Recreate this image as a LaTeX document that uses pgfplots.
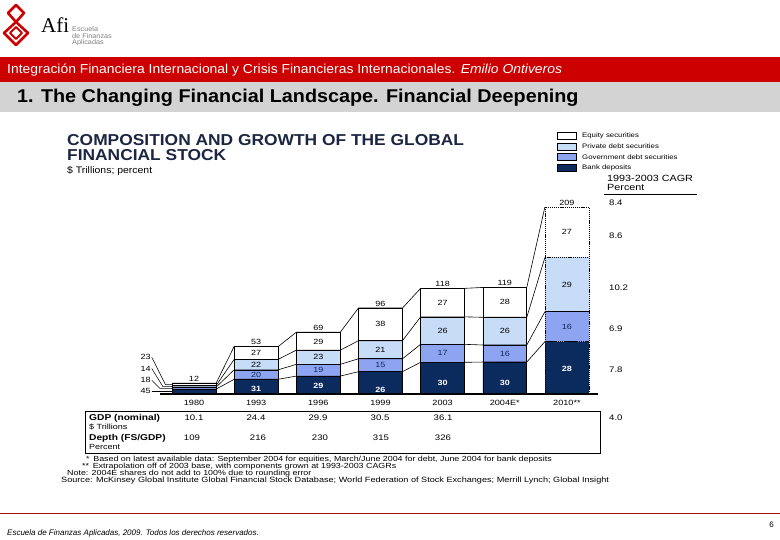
\documentclass[border=0pt]{standalone}
\usepackage{pgfplots}
\usepackage{pgfplotstable}
\pgfplotsset{compat=1.18}
\usepackage{fontspec}
\setmainfont{Liberation Sans}
\newfontfamily\serifaf{Liberation Serif}
\newfontfamily\wideA[FakeStretch=1.07]{Liberation Sans}
\newfontfamily\wideB[FakeStretch=1.1]{Liberation Sans}
\newfontfamily\wideC[FakeStretch=1.2]{Liberation Sans}
\definecolor{bdblue}{HTML}{0B2A5E}
\definecolor{gdblue}{HTML}{8DA4F0}
\definecolor{pdblue}{HTML}{C7DCF7}
\definecolor{afired}{HTML}{CC0000}
\definecolor{footred}{HTML}{A01010}
\definecolor{bandgrey}{HTML}{D3D3D3}
\definecolor{titlenavy}{HTML}{1C2642}
\newcommand{\fs}[2]{\fontsize{#1bp}{#2bp}\selectfont}

% x: category index; total in $ trillions; segment heights in $ trillions
\pgfplotstableread{
x total bd gd pd eq
0 12 5.40 2.16 1.68 2.76
1 53 16.43 10.60 11.66 14.31
2 69 20.01 13.11 15.87 20.01
3 96 24.96 14.40 20.16 36.48
4 118 35.40 20.06 30.68 31.86
5 119 35.70 19.04 30.94 33.32
6 209 58.52 33.44 60.61 56.43
}\stock

\pgfplotsset{chartbase/.style={
  at={(194bp,-394bp)}, anchor=origin, scale only axis,
  width=438bp, height=197bp,
  xmin=-0.547, xmax=6.5, ymin=0, ymax=220,
  clip=false,
}}

\begin{document}
\begin{tikzpicture}[x=1bp,y=-1bp]
\useasboundingbox (0,0) rectangle (780,540);
\fill[white] (0,0) rectangle (780,540);

% ---- logo
\begin{scope}[afired, line width=2.6bp, line join=round]
  \draw (16,5) -- (24,13) -- (16,22) -- (8,13) -- cycle;
  \draw (16,22) -- (28,33) -- (16,45) -- (4,33) -- cycle;
  \draw[line width=1.8bp] (16,27) -- (22,33) -- (16,39) -- (10,33) -- cycle;
\end{scope}
\node[anchor=base west, inner sep=0] at (41,33) {\serifaf\fs{21}{22}Afi};
\foreach \t/\yy in {Escuela/29, de Finanzas/36, Aplicadas/43}{
  \node[anchor=west, inner sep=0, text=gray, font=\wideA\fs{6.8}{7}] at (72,\yy) {\t};}

% ---- bands
\fill[afired] (0,57) rectangle (780,82);
\fill[bandgrey] (0,82) rectangle (780,112);
\node[anchor=west, white, inner sep=0, font=\wideA\fs{13}{14}] at (7,70.5)
  {Integración Financiera Internacional y Crisis Financieras Internacionales. \textit{Emilio Ontiveros}};
\node[anchor=west, inner sep=0, font=\wideA\fs{18.5}{20}\bfseries] at (17,98)
  {1. The Changing Financial Landscape. Financial Deepening};

% ---- chart titles
\node[anchor=west, inner sep=0, text=titlenavy, font=\wideB\fs{15.8}{16}\bfseries] at (67,140)
  {COMPOSITION AND GROWTH OF THE GLOBAL};
\node[anchor=west, inner sep=0, text=titlenavy, font=\wideB\fs{15.8}{16}\bfseries] at (67,155)
  {FINANCIAL STOCK};
\node[anchor=west, inner sep=0, font=\wideB\fs{9.5}{11}] at (67,170.5) {\$ Trillions; percent};

% ---- legend
\foreach \c/\t/\yy in {white/Equity securities/136, pdblue/Private debt securities/146.5, gdblue/Government debt securities/157, bdblue/Bank deposits/167.5}{
  \draw[fill=\c, line width=0.5bp] (557,\yy-3.5) rectangle (576,\yy+3.5);
  \node[anchor=west, inner sep=0, font=\wideC\fs{6.5}{7}] at (582,\yy) {\t};
}
\node[anchor=west, inner sep=0, font=\wideC\fs{9}{10}] at (607,178) {1993-2003 CAGR};
\node[anchor=west, inner sep=0, font=\wideC\fs{9}{10}] at (607,187.5) {Percent};
\draw[line width=0.6bp] (604,194) -- (697,194);
\foreach \v/\yy in {8.4/203, 8.6/236, 10.2/288, 6.9/329, 7.8/370, 4.0/418}{
  \node[anchor=west, inner sep=0, font=\wideC\fs{8}{9}] at (609,\yy) {\v};
}

% ---- bars 1980-2004E (solid)
\begin{axis}[chartbase, hide axis, ybar stacked, bar width=0.707, restrict x to domain=-0.5:5.5]
\addplot[fill=bdblue, draw=black, line width=0.6bp] table[x=x,y=bd]{\stock};
\addplot[fill=gdblue, draw=black, line width=0.6bp] table[x=x,y=gd]{\stock};
\addplot[fill=pdblue, draw=black, line width=0.6bp] table[x=x,y=pd]{\stock};
\addplot[fill=white, draw=black, line width=0.6bp] table[x=x,y=eq]{\stock};
\end{axis}

% ---- bar 2010 (extrapolated, dotted outline)
\begin{axis}[chartbase, hide axis, ybar stacked, bar width=0.707, restrict x to domain=5.5:6.5]
\addplot[fill=bdblue, draw=black, line width=0.6bp, dash pattern=on 1.2bp off 0.9bp] table[x=x,y=bd]{\stock};
\addplot[fill=gdblue, draw=black, line width=0.6bp, dash pattern=on 1.2bp off 0.9bp] table[x=x,y=gd]{\stock};
\addplot[fill=pdblue, draw=black, line width=0.6bp, dash pattern=on 1.2bp off 0.9bp] table[x=x,y=pd]{\stock};
\addplot[fill=white, draw=black, line width=0.6bp, dash pattern=on 1.2bp off 0.9bp] table[x=x,y=eq]{\stock};
\end{axis}

% ---- connectors, labels, baseline
\begin{axis}[chartbase, axis x line=bottom, hide y axis,
  axis line style={-, line width=1.6bp},
  xtick={0,1,2,3,4,5,6}, xticklabels={1980,1993,1996,1999,2003,2004E*,2010**},
  major tick length=0pt, ytick=\empty,
  xticklabel style={font=\wideC\fs{7.6}{8}, yshift=-2.5bp},
  /pgf/number format/assume math mode=true]
\addplot[black, line width=0.6bp, mark=none] coordinates {(-0.354,5.40)(0.354,5.40)(0.646,16.43)(1.354,16.43)(1.646,20.01)(2.354,20.01)(2.646,24.96)(3.354,24.96)(3.646,35.40)(4.354,35.40)(4.646,35.70)(5.354,35.70)(5.646,58.52)};
\addplot[black, line width=0.6bp, mark=none] coordinates {(-0.354,7.56)(0.354,7.56)(0.646,27.03)(1.354,27.03)(1.646,33.12)(2.354,33.12)(2.646,39.36)(3.354,39.36)(3.646,55.46)(4.354,55.46)(4.646,54.74)(5.354,54.74)(5.646,91.96)};
\addplot[black, line width=0.6bp, mark=none] coordinates {(-0.354,9.24)(0.354,9.24)(0.646,38.69)(1.354,38.69)(1.646,48.99)(2.354,48.99)(2.646,59.52)(3.354,59.52)(3.646,86.14)(4.354,86.14)(4.646,85.68)(5.354,85.68)(5.646,152.57)};
\addplot[black, line width=0.6bp, mark=none] coordinates {(-0.354,12)(0.354,12)(0.646,53)(1.354,53)(1.646,69)(2.354,69)(2.646,96)(3.354,96)(3.646,118)(4.354,118)(4.646,119)(5.354,119)(5.646,209)};
% share labels
\addplot[only marks, mark=none, nodes near coords, point meta=explicit symbolic,
  every node near coord/.style={anchor=center, inner sep=0, font=\wideC\fs{7.5}{8}\bfseries, text=white}]
  coordinates {(1,5.5)[31] (2,8.5)[29] (3,5)[26] (4,12.6)[30] (5,12.6)[30] (6,27.5)[28]};
\addplot[only marks, mark=none, nodes near coords, point meta=explicit symbolic,
  every node near coord/.style={anchor=center, inner sep=0, font=\wideC\fs{7.5}{8}, text=bdblue}]
  coordinates {(1,21.7)[20] (2,26.6)[19] (3,32.2)[15] (4,45.4)[17] (5,45.2)[16] (6,75.2)[16]};
\addplot[only marks, mark=none, nodes near coords, point meta=explicit symbolic,
  every node near coord/.style={anchor=center, inner sep=0, font=\wideC\fs{7.5}{8}, text=black}]
  coordinates {(1,32.9)[22] (2,41.1)[23] (3,49.4)[21] (4,70.8)[26] (5,70.2)[26] (6,122.3)[29]};
\addplot[only marks, mark=none, nodes near coords, point meta=explicit symbolic,
  every node near coord/.style={anchor=center, inner sep=0, font=\wideC\fs{7.5}{8}, text=black}]
  coordinates {(1,45.8)[27] (2,58)[29] (3,77.8)[38] (4,102.1)[27] (5,102.3)[28] (6,180.8)[27]};
% totals
\addplot[only marks, mark=none, nodes near coords, point meta=explicit symbolic,
  every node near coord/.style={anchor=south, inner sep=1.5bp, font=\wideC\fs{7.5}{8}, text=black}]
  coordinates {(0,12)[12] (1,53)[53] (2,69)[69] (3,96)[96] (4,118)[118] (5,119)[119] (6,209)[209]};
% 1980 shares with leaders
\draw[line width=0.5bp] (axis cs:-0.68,41) -- (axis cs:-0.46,10.6) -- (axis cs:-0.354,10.6);
\draw[line width=0.5bp] (axis cs:-0.68,28.5) -- (axis cs:-0.50,8.2) -- (axis cs:-0.354,8.2);
\draw[line width=0.5bp] (axis cs:-0.68,15.5) -- (axis cs:-0.55,6.4) -- (axis cs:-0.354,6.4);
\draw[line width=0.5bp] (axis cs:-0.68,3.2) -- (axis cs:-0.354,3.2);
\node[anchor=east, inner sep=1bp, font=\wideC\fs{7.5}{8}] at (axis cs:-0.68,41) {23};
\node[anchor=east, inner sep=1bp, font=\wideC\fs{7.5}{8}] at (axis cs:-0.68,28.5) {14};
\node[anchor=east, inner sep=1bp, font=\wideC\fs{7.5}{8}] at (axis cs:-0.68,15.5) {18};
\node[anchor=east, inner sep=1bp, font=\wideC\fs{7.5}{8}] at (axis cs:-0.68,3.2) {45};
\end{axis}

% ---- GDP / depth table
\draw[line width=0.8bp] (85,411) rectangle (600,453);
\node[anchor=west, inner sep=0, font=\wideC\fs{8.5}{9}\bfseries] at (89,418) {GDP (nominal)};
\node[anchor=west, inner sep=0, font=\wideC\fs{7.5}{8}] at (89,426.5) {\$ Trillions};
\node[anchor=west, inner sep=0, font=\wideC\fs{8.5}{9}\bfseries] at (89,438) {Depth (FS/GDP)};
\node[anchor=west, inner sep=0, font=\wideC\fs{7.5}{8}] at (89,446.5) {Percent};
\foreach \xx/\v in {194/10.1, 256/24.4, 318/29.9, 380/30.5, 443/36.1}{
  \node[inner sep=0, font=\wideC\fs{8}{9}] at (\xx,418) {\v};}
\foreach \xx/\v in {192/109, 258/216, 320/230, 381/315, 443/326}{
  \node[inner sep=0, font=\wideC\fs{8}{9}] at (\xx,438) {\v};}

% ---- footnotes
\node[anchor=west, inner sep=0, font=\wideC\fs{7.4}{8}] at (86,460) {*\enspace Based on latest available data: September 2004 for equities, March/June 2004 for debt, June 2004 for bank deposits};
\node[anchor=west, inner sep=0, font=\wideC\fs{7.4}{8}] at (82,467) {**\enspace Extrapolation off of 2003 base, with components grown at 1993-2003 CAGRs};
\node[anchor=west, inner sep=0, font=\wideC\fs{7.4}{8}] at (67,474) {Note: 2004E shares do not add to 100\% due to rounding error};
\node[anchor=west, inner sep=0, font=\wideC\fs{7.6}{8}] at (61,481) {Source: McKinsey Global Institute Global Financial Stock Database; World Federation of Stock Exchanges; Merrill Lynch; Global Insight};

% ---- footer
\draw[footred, line width=1bp] (0,513.5) -- (780,513.5);
\node[anchor=west, inner sep=0, font=\fs{8}{9}\itshape] at (7,533) {Escuela de Finanzas Aplicadas, 2009. Todos los derechos reservados.};
\node[anchor=east, inner sep=0, font=\fs{8}{9}] at (774,525) {6};
\end{tikzpicture}
\end{document}
